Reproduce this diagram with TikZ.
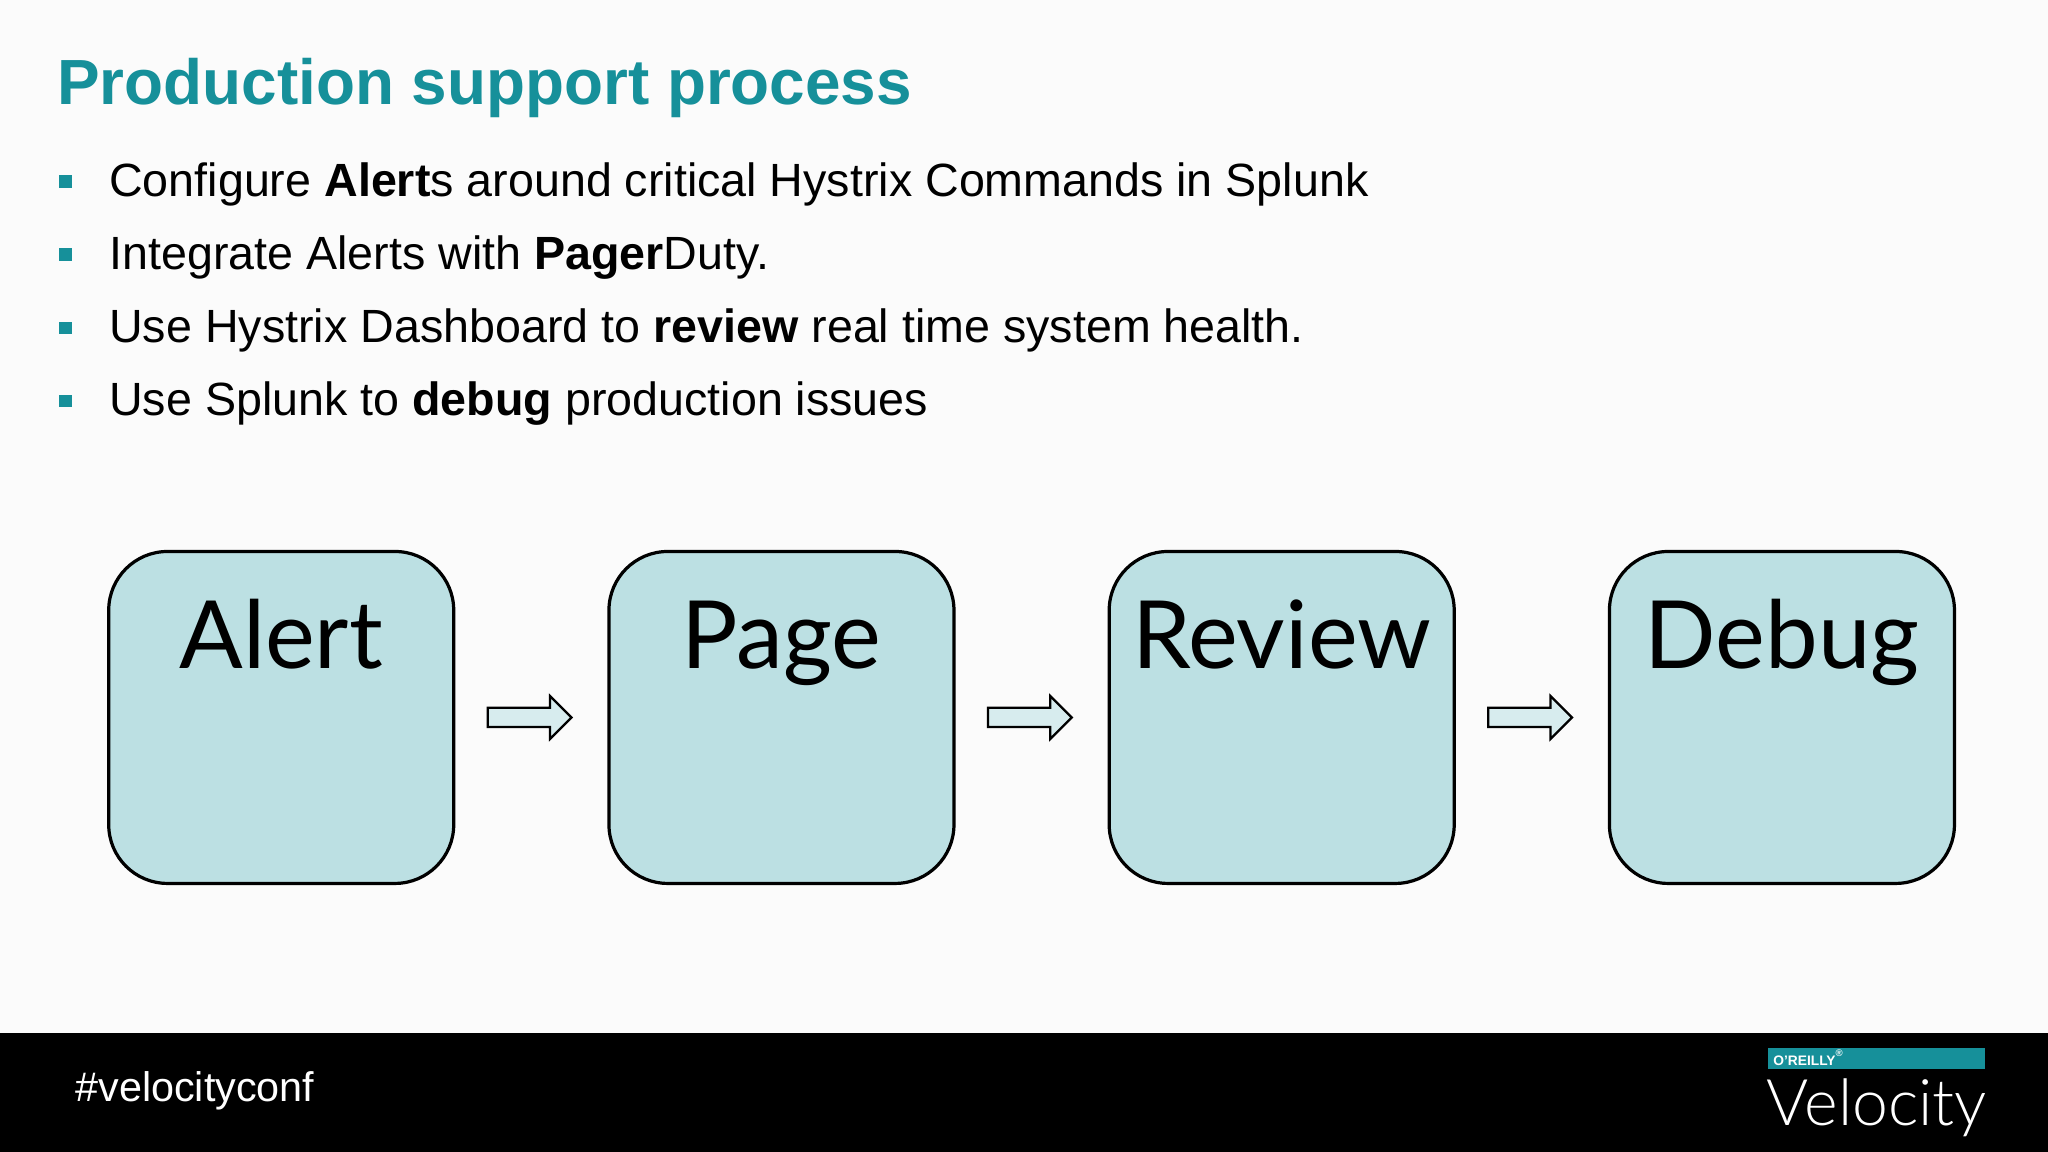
\documentclass[tikz,border=0pt]{standalone}
\usepackage{fontspec}
\setmainfont{Liberation Sans}
\newfontfamily\boxfont{Lato}
\newfontfamily\lightfont{Lato Light}
\usetikzlibrary{shapes.arrows,calc}
\definecolor{teal1}{HTML}{16909A}
\definecolor{boxfill}{HTML}{BCE0E3}
\begin{document}
\begin{tikzpicture}[x=0.01cm,y=-0.01cm,
  stepbox/.style={draw=black,line width=0.7pt,fill=boxfill,rounded corners=0.45cm,minimum width=2.64cm,minimum height=2.54cm,anchor=north west},
  lbl/.style={font=\boxfont\fontsize{20.5}{21}\selectfont,anchor=base},
  barrow/.style={single arrow,draw=black,line width=0.5pt,fill=boxfill!60!white,minimum height=0.64cm,inner sep=0.065cm,single arrow head extend=0.09cm,single arrow head indent=0pt,anchor=center,xshift=-0.05cm},
  bul/.style={fill=teal1,minimum size=0.095cm,inner sep=0pt},
  btxt/.style={anchor=west,font=\fontsize{10.15}{11}\selectfont,inner sep=0pt}]
\useasboundingbox (0,0) rectangle (1568,882);
\fill[white!98.5!black] (0,0) rectangle (1568,791);
\fill[black] (0,791) rectangle (1568,882);
\node[anchor=base west,inner sep=0pt,text=teal1,font=\bfseries\fontsize{13.9}{14}\selectfont] (title) at (43,80) {Production support process};
\foreach \y/\t [count=\i] in {141/{Configure \textbf{Alert}s around critical Hystrix Commands in Splunk},
  197/{Integrate Alerts with \textbf{Pager}Duty.},
  253/{Use Hystrix Dashboard to \textbf{review} real time system health.},
  309/{Use Splunk to \textbf{debug} production issues}}{
  \node[bul] (b\i) at (50,\y-2) {};
  \node[btxt] (t\i) at (83,\y) {\t};
}
\node[stepbox] (alert) at (82,421) {};
\node[stepbox] (page) at (465,421) {};
\node[stepbox] (review) at (848,421) {};
\node[stepbox] (debug) at (1231,421) {};
\foreach \n/\t in {alert/Alert,page/Page,review/Review,debug/Debug}
  \node[lbl] at ([yshift=-0.91cm]\n.north) {\t};
\node[barrow] (a1) at ($(alert.east)!0.5!(page.west)$) {};
\node[barrow] (a2) at ($(page.east)!0.5!(review.west)$) {};
\node[barrow] (a3) at ($(review.east)!0.5!(debug.west)$) {};
\node[anchor=base west,inner sep=0pt,text=white,font=\fontsize{9.0}{9}\selectfont] (tag) at (57,843) {\#velocityconf};
\node[fill=teal1,anchor=north west,minimum width=1.66cm,minimum height=0.16cm,inner sep=0pt] (obar) at (1353,802) {};
\node[anchor=west,text=white,font=\bfseries\fontsize{3}{3}\selectfont,inner sep=0pt] (oreilly) at (1357,810) {O'REILLY\textsuperscript{®}};
\node[anchor=base west,inner sep=0pt,text=white,font=\lightfont\fontsize{14}{14}\selectfont] (vel) at (1352,862) {Velocity};
\end{tikzpicture}
\end{document}
